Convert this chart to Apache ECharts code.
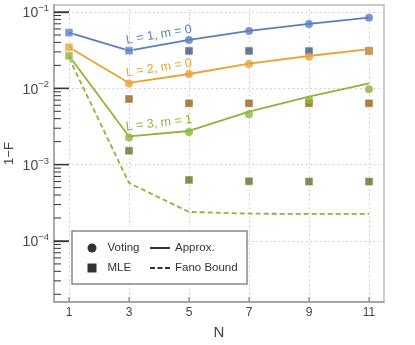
<!DOCTYPE html>
<html><head><meta charset="utf-8">
<script src="https://cdn.jsdelivr.net/npm/echarts@6/dist/echarts.min.js"></script>
<style>html,body{margin:0;padding:0;background:#fff}#c{width:415px;height:345px}</style>
</head><body><div id="c"></div>
<script>
// ---- data ----
const N = [1, 3, 5, 7, 9, 11];
const xTicks = [1, 3, 5, 7, 9, 11];
const yMajor = [1e-4, 1e-3, 1e-2, 1e-1];
const yMinor = [2e-5, 3e-5, 4e-5, 5e-5, 6e-5, 7e-5, 8e-5, 9e-5,
                2e-4, 3e-4, 4e-4, 5e-4, 6e-4, 7e-4, 8e-4, 9e-4,
                2e-3, 3e-3, 4e-3, 5e-3, 6e-3, 7e-3, 8e-3, 9e-3,
                2e-2, 3e-2, 4e-2, 5e-2, 6e-2, 7e-2, 8e-2, 9e-2];
const xMin = 0.5, xMax = 11.5;
const yMin = 1.585e-5, yMax = 0.1235;

const labels = ['L = 1, m = 0', 'L = 2, m = 0', 'L = 3, m = 1'];
// approximation curves
const approx1 = [0.0536, 0.0311, 0.0430, 0.0564, 0.0697, 0.0842];
const approx2 = [0.0345, 0.01175, 0.0154, 0.0211, 0.0265, 0.0327];
const approx3 = [0.0267, 0.00234, 0.00276, 0.00494, 0.00776, 0.01164];
// voting (circles); null = no separate circle
const voting1 = [null, null, 0.0430, 0.0564, 0.0697, 0.0842];
const voting2 = [null, 0.0116, 0.0154, 0.0209, 0.0259, 0.0311];
const voting3 = [null, 0.00226, 0.00268, 0.00457, 0.00703, 0.0097];
// MLE (squares)
const mle1 = [0.0536, 0.0311, 0.0309, 0.0309, 0.0308, 0.0309];
const mle2 = [0.0345, 0.00724, 0.00637, 0.00637, 0.00637, 0.00637];
const mle3 = [0.0267, 0.00152, 0.00063, 0.000606, 0.0006, 0.0006];
// Fano bound (L=3, m=1)
const fano3 = [0.025, 0.000575, 0.00024, 0.000228, 0.000226, 0.000226];

// ---- styling ----
const FONT = 'Liberation Sans, Arial, Helvetica, sans-serif';
const light = ['#5b7fbe', '#eaa334', '#8fb43c'];
const dark = ['#3f5683', '#93611c', '#5c7424'];
const approxAll = [approx1, approx2, approx3];
const votingAll = [voting1, voting2, voting3];
const mleAll = [mle1, mle2, mle3];

const pts = arr => N.map((n, i) => [n, arr[i]]);
const series = [];
approxAll.forEach((a, g) => {
  series.push({ type: 'line', name: 'a' + g, data: pts(a), symbol: 'none', silent: true,
    lineStyle: { color: light[g], width: 1.8 }, z: 2 });
});
series.push({ type: 'line', name: 'fano', data: pts(fano3), symbol: 'none', silent: true,
  lineStyle: { color: light[2], width: 1.8, type: [5, 3] }, z: 2 });
mleAll.forEach((m, g) => {
  series.push({ type: 'scatter', name: 'm' + g, symbol: 'rect', symbolSize: 8, z: 3,
    data: N.map((n, i) => ({ value: [n, m[i]],
      itemStyle: { color: votingAll[g][i] == null ? light[g] : dark[g] } })),
    itemStyle: { borderColor: '#fff', borderWidth: 0.6 } });
});
votingAll.forEach((v, g) => {
  series.push({ type: 'scatter', name: 'v' + g, symbol: 'circle', symbolSize: 8, z: 4,
    data: N.map((n, i) => [n, v[i]]).filter(p => p[1] != null),
    itemStyle: { color: light[g] } });
});
// legend dummies
['Voting', 'MLE', 'Approx.', 'Fano Bound'].forEach(nm => {
  series.push({ type: 'scatter', name: nm, data: [], itemStyle: { color: '#000' } });
});

const chart = echarts.init(document.getElementById('c'));
const legendText = { fontSize: 11.5, color: '#333', fontFamily: FONT };
const option = {
  animation: false,
  backgroundColor: '#fff',
  grid: { left: 54, right: 31, top: 5, bottom: 43, show: true, borderColor: '#bbb', borderWidth: 1.5,
          containLabel: false, outerBoundsMode: 'none' },
  xAxis: {
    type: 'value', min: xMin, max: xMax,
    name: 'N', nameLocation: 'middle', nameGap: 23, nameMoveOverlap: false,
    nameTextStyle: { fontSize: 15, color: '#444', fontFamily: FONT },
    axisLine: { show: true, lineStyle: { color: '#999', width: 1.5 } },
    axisTick: { show: true, inside: true, length: 5, customValues: xTicks, lineStyle: { color: '#999', width: 1 } },
    axisLabel: { customValues: xTicks, margin: 5, fontSize: 12, color: '#444', fontFamily: FONT },
    splitLine: { show: true, lineStyle: { color: '#c8c8c8', width: 1, type: [1.5, 3] } }
  },
  yAxis: {
    type: 'log', min: yMin, max: yMax, logBase: 10,
    name: '1\u2212F', nameLocation: 'middle', nameGap: 38, nameRotate: 90, nameMoveOverlap: false,
    nameTextStyle: { fontSize: 13, color: '#444', fontFamily: FONT },
    axisLine: { show: true, lineStyle: { color: '#aaa', width: 2 } },
    axisTick: { show: true, inside: true, length: 15, customValues: yMajor, lineStyle: { color: '#333', width: 1.3 } },
    axisLabel: {
      customValues: yMajor, margin: 5, color: '#4a4a4a', fontFamily: FONT,
      formatter: v => '{b|10}{s|' + String(Math.round(Math.log10(v))).replace('-', '\u2212') + '}',
      rich: {
        b: { fontSize: 14, lineHeight: 17, verticalAlign: 'bottom', color: '#4a4a4a', fontFamily: FONT },
        s: { fontSize: 9.5, lineHeight: 10, verticalAlign: 'top', color: '#4a4a4a', fontFamily: FONT }
      }
    },
    splitLine: { show: true, lineStyle: { color: '#c8c8c8', width: 1, type: [1.5, 3] } }
  },
  legend: [{
    data: [{ name: 'Voting', icon: 'circle' }, { name: 'MLE', icon: 'rect' }],
    orient: 'vertical', left: 82.5, top: 237, itemWidth: 9, itemHeight: 9, itemGap: 8,
    selectedMode: false, textStyle: Object.assign({ padding: [0, 0, 0, 6] }, legendText), z: 6
  }, {
    data: [{ name: 'Approx.', icon: 'path://M0,0h20v2h-20z' },
           { name: 'Fano Bound', icon: 'path://M0,0h5v2h-5zM7.5,0h5v2h-5zM15,0h5v2h-5z' }],
    orient: 'vertical', left: 145, top: 237, itemWidth: 20, itemHeight: 2, itemGap: 8,
    selectedMode: false, textStyle: legendText, z: 6
  }],
  series: series
};
chart.setOption(option);

// ticks, legend frame and curve annotations, placed through the library's coordinate conversion
const graphics = [{
  type: 'rect', z: 5, shape: { x: 72, y: 231, width: 175, height: 53 },
  style: { fill: '#fff', stroke: '#888', lineWidth: 1.5 }
}];
const addYTick = (v, len, w) => {
  const p = chart.convertToPixel({ gridIndex: 0 }, [xMin, v]);
  graphics.push({ type: 'line', z: 3, silent: true,
    shape: { x1: p[0], y1: p[1], x2: p[0] + len, y2: p[1] },
    style: { stroke: '#333', lineWidth: w } });
};
yMajor.forEach(v => addYTick(v, 15, 1.3));
yMinor.forEach(v => addYTick(v, 7, 1));
xTicks.forEach(n => {
  const p = chart.convertToPixel({ gridIndex: 0 }, [n, yMin]);
  graphics.push({ type: 'line', z: 3, silent: true,
    shape: { x1: p[0], y1: p[1], x2: p[0], y2: p[1] - 5 },
    style: { stroke: '#999', lineWidth: 1.2 } });
});
const angles = [10, 8.7, 6.5];
approxAll.forEach((a, g) => {
  const p = chart.convertToPixel({ gridIndex: 0 }, [4, Math.sqrt(a[1] * a[2])]);
  graphics.push({
    type: 'text', z: 6, x: p[0], y: p[1] - 10.5, rotation: angles[g] * Math.PI / 180,
    style: { text: labels[g], fill: light[g], font: '12.5px ' + FONT, align: 'center', verticalAlign: 'middle' }
  });
});
chart.setOption({ graphic: graphics });
</script></body></html>
